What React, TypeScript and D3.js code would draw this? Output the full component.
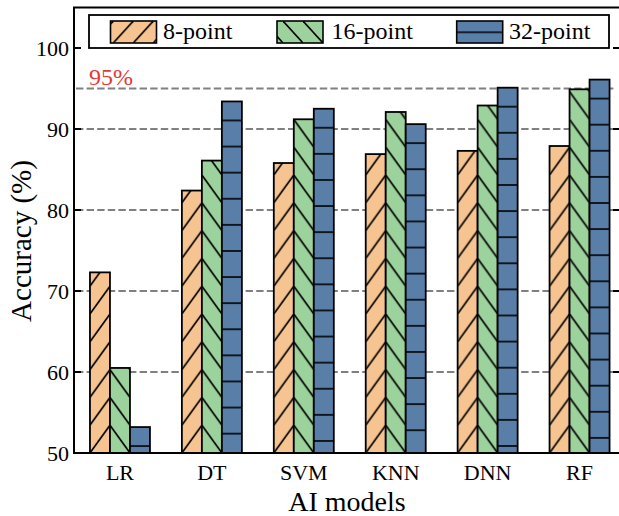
import React from "react";
import * as d3 from "d3";

const categories = ["LR", "DT", "SVM", "KNN", "DNN", "RF"];
const seriesNames = ["8-point", "16-point", "32-point"];
const values8 = [72.3, 82.4, 85.8, 86.9, 87.3, 87.9];
const values16 = [60.5, 86.1, 91.2, 92.1, 92.9, 94.9];
const values32 = [53.2, 93.4, 92.5, 90.6, 95.1, 96.1];
const yTicks = [50, 60, 70, 80, 90, 100];
const gridValues = [60, 70, 80, 90];
const thresholdValue = 95;
const thresholdLabel = "95%";

const W = 619;
const H = 516;
const plotLeft = 74;
const plotRight = 620;
const plotTop = 7.5;
const plotBottom = 453;

const colors = ["#F6C491", "#9CD29B", "#597FA9"];
const hatches = ["/", "\\", "-"];
const FONT = "Liberation Serif";

export default function App() {
  const x = d3.scaleLinear().domain([-0.5, 5.44]).range([plotLeft, plotRight]);
  const y = d3.scaleLinear().domain([50, 105]).range([plotBottom, plotTop]);
  const unit = x(1) - x(0);
  const bw = 20 / unit; // bar width in data units
  const bwPx = x(bw) - x(0);
  const allSeries = [values8, values16, values32];
  const diagPeriod = 27.8;
  const horizPeriod = 26.1;
  const base = y(50);

  const bars: any[] = [];
  allSeries.forEach((vals, s) => {
    vals.forEach((v, i) => {
      const left = x(i - 1.5 * bw + s * bw);
      const top = y(v);
      bars.push({ s, i, v, left, top, id: `hp-${s}-${i}` });
    });
  });

  const patternFor = (b: any) => {
    const h = hatches[b.s];
    if (h === "/" || h === "\\") {
      const P = diagPeriod;
      return (
        <pattern key={b.id} id={b.id} patternUnits="userSpaceOnUse" x={b.left} y={base} width={bwPx} height={P}>
          <rect width={bwPx} height={P} fill={colors[b.s]} />
          {h === "/" ? (
            <line x1={-bwPx} y1={2 * P} x2={2 * bwPx} y2={-P} stroke="#000" strokeWidth={1.6} />
          ) : (
            <line x1={-bwPx} y1={-P} x2={2 * bwPx} y2={2 * P} stroke="#000" strokeWidth={1.6} />
          )}
        </pattern>
      );
    }
    const P = horizPeriod;
    return (
      <pattern key={b.id} id={b.id} patternUnits="userSpaceOnUse" x={b.left} y={b.top + 19} width={bwPx} height={P}>
        <rect width={bwPx} height={P} fill={colors[b.s]} />
        <line x1={0} y1={0} x2={bwPx} y2={0} stroke="#000" strokeWidth={1.6} />
        <line x1={0} y1={P} x2={bwPx} y2={P} stroke="#000" strokeWidth={1.6} />
      </pattern>
    );
  };

  const legendBox = { x: 89, y: 15, w: 520, h: 33 };
  const legendItems = seriesNames.map((name, s) => ({
    name,
    s,
    px: [110.5, 277, 456.7][s],
    tx: [163, 331.5, 509][s],
  }));

  return (
    <div style={{ position: "absolute", left: 0, top: 0 }}>
      <svg width={W} height={H} style={{ display: "block" }} fontFamily={FONT}>
        <defs>
          {bars.map(patternFor)}
          <pattern id="lg-0" patternUnits="userSpaceOnUse" x={113.3} y={21} width={20} height={22}>
            <rect width={20} height={22} fill={colors[0]} />
            <line x1={-20} y1={44} x2={40} y2={-22} stroke="#000" strokeWidth={1.6} />
          </pattern>
          <pattern id="lg-1" patternUnits="userSpaceOnUse" x={283} y={21} width={20} height={22}>
            <rect width={20} height={22} fill={colors[1]} />
            <line x1={-20} y1={-22} x2={40} y2={44} stroke="#000" strokeWidth={1.6} />
          </pattern>
          <pattern id="lg-2" patternUnits="userSpaceOnUse" x={456.7} y={32.3 - 13} width={46} height={26}>
            <rect width={46} height={26} fill={colors[2]} />
            <line x1={0} y1={13} x2={46} y2={13} stroke="#000" strokeWidth={1.6} />
          </pattern>
          <clipPath id="plotclip">
            <rect x={plotLeft} y={plotTop} width={plotRight - plotLeft} height={plotBottom - plotTop} />
          </clipPath>
        </defs>

        <g clipPath="url(#plotclip)">
          {gridValues.map((g) => (
            <line key={g} x1={plotLeft + 2} x2={plotRight - 5} y1={y(g)} y2={y(g)} stroke="#808080" strokeWidth={2} strokeDasharray="7.4,3.2" />
          ))}
          <line x1={plotLeft + 2} x2={plotRight - 5} y1={y(thresholdValue)} y2={y(thresholdValue)} stroke="#808080" strokeWidth={2} strokeDasharray="7.4,3.2" />
        </g>

        <text x={89} y={85} fontSize={24} fill="#E53935" fontFamily={FONT}>{thresholdLabel}</text>

        {bars.map((b) => (
          <rect key={"r" + b.id} x={b.left} y={b.top} width={bwPx} height={base - b.top} fill={`url(#${b.id})`} stroke="#000" strokeWidth={1.8} />
        ))}

        <rect x={plotLeft} y={plotTop} width={plotRight - plotLeft} height={plotBottom - plotTop} fill="none" stroke="#000" strokeWidth={2} />

        {yTicks.map((t) => (
          <g key={t}>
            <line x1={plotLeft} x2={plotLeft + 7} y1={y(t)} y2={y(t)} stroke="#000" strokeWidth={2} />
            <line x1={plotRight - 7} x2={plotRight} y1={y(t)} y2={y(t)} stroke="#000" strokeWidth={2} />
            <text x={69} y={y(t)} dy="0.35em" textAnchor="end" fontSize={22} fontFamily={FONT}>{t}</text>
          </g>
        ))}

        {categories.map((c, i) => (
          <text key={c} x={x(i)} y={480} textAnchor="middle" fontSize={22} fontFamily={FONT}>{c}</text>
        ))}

        <text x={(plotLeft + plotRight) / 2} y={511} textAnchor="middle" fontSize={28} fontFamily={FONT}>AI models</text>
        <text transform={`translate(31, 241) rotate(-90)`} textAnchor="middle" fontSize={29} fontFamily={FONT}>Accuracy (%)</text>

        <rect x={legendBox.x} y={legendBox.y} width={legendBox.w} height={legendBox.h} fill="#fff" stroke="#000" strokeWidth={1.8} />
        {legendItems.map((it) => (
          <g key={it.name}>
            <rect x={it.px} y={21} width={46} height={22} fill={`url(#lg-${it.s})`} stroke="#000" strokeWidth={1.6} />
            <text x={it.tx} y={38.5} fontSize={24} fontFamily={FONT}>{it.name}</text>
          </g>
        ))}
      </svg>
    </div>
  );
}
